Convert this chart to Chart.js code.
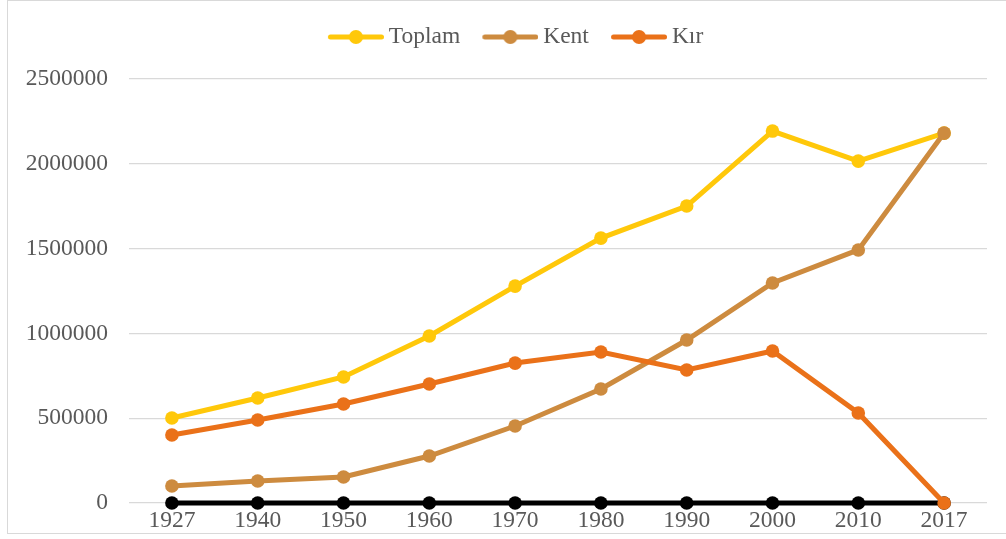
<!DOCTYPE html>
<html>
<head>
<meta charset="utf-8">
<script src="https://cdn.jsdelivr.net/npm/chart.js@4"></script>
<style>
  html, body { margin: 0; padding: 0; background: #fff; }
  #wrap { position: relative; width: 1006px; height: 539px; overflow: hidden; }
  #frame { position: absolute; left: 7px; top: 0; width: 1010px; height: 534px; border: 1px solid #d9d9d9; box-sizing: border-box; }
  canvas { position: absolute; left: 0; top: 0; }
</style>
</head>
<body>
<div id="wrap">
  <div id="frame"></div>
  <canvas id="chart" width="1006" height="539"></canvas>
</div>
<script>
const years = ["1927", "1940", "1950", "1960", "1970", "1980", "1990", "2000", "2010", "2017"];
const toplam = [501000, 619000, 743000, 985000, 1279000, 1562000, 1751000, 2193000, 2016000, 2181000];
const kent = [100000, 130000, 153000, 277000, 454000, 672000, 961000, 1297000, 1492000, 2181000];
const kir = [401000, 489000, 584000, 702000, 825000, 890000, 784000, 896000, 531000, 0];
const zero = [0, 0, 0, 0, 0, 0, 0, 0, 0, 0];

const YELLOW = "#FFC80A";
const BROWN = "#CD8B3F";
const ORANGE = "#EA7119";
const FONT = "'Times New Roman', 'Liberation Serif', serif";

// legend marker: line with a dot, visible part sits at the right of the image
function legendMarker(color) {
  const c = document.createElement("canvas");
  c.width = 75;
  c.height = 16;
  const ctx = c.getContext("2d");
  ctx.strokeStyle = color;
  ctx.lineWidth = 5;
  ctx.lineCap = "round";
  ctx.beginPath();
  ctx.moveTo(21.5, 8);
  ctx.lineTo(72.5, 8);
  ctx.stroke();
  ctx.fillStyle = color;
  ctx.beginPath();
  ctx.arc(47, 8, 7, 0, Math.PI * 2);
  ctx.fill();
  return c;
}

function series(label, data, color, order) {
  return {
    label: label,
    data: data,
    borderColor: color,
    backgroundColor: color,
    borderWidth: 5,
    pointRadius: 6.8,
    pointHoverRadius: 6.8,
    pointBorderWidth: 0,
    pointBackgroundColor: color,
    tension: 0,
    clip: false,
    order: order,
  };
}

// fixed legend height, and nudge it right a little like the original
const legendTweak = {
  id: "legendTweak",
  beforeInit(chart) {
    const legend = chart.legend;
    const fit = legend.fit;
    legend.fit = function () {
      fit.call(this);
      this.height = 63.75;
    };
    const draw = legend.draw;
    legend.draw = function () {
      this.ctx.save();
      this.ctx.translate(16, 0);
      draw.call(this);
      this.ctx.restore();
    };
  },
};

new Chart(document.getElementById("chart").getContext("2d"), {
  type: "line",
  data: {
    labels: years,
    datasets: [
      series("Toplam", toplam, YELLOW, 3),
      series("Kent", kent, BROWN, 2),
      series("Kır", kir, ORANGE, 1),
      series("", zero, "#000000", 4),
    ],
  },
  options: {
    responsive: false,
    animation: false,
    layout: { padding: { left: 0, right: 19, top: 15.25, bottom: 0 } },
    plugins: {
      tooltip: { enabled: false },
      legend: {
        position: "top",
        labels: {
          usePointStyle: true,
          pointStyleWidth: 61.25,
          padding: 10,
          color: "#595959",
          font: { family: FONT, size: 23.5 },
          sort: (a, b) => a.datasetIndex - b.datasetIndex,
          filter: (item) => item.datasetIndex < 3,
          generateLabels: (chart) => {
            const colors = [YELLOW, BROWN, ORANGE];
            return chart.data.datasets.map((ds, i) => ({
              text: ds.label,
              fillStyle: colors[i] || "#000",
              strokeStyle: colors[i] || "#000",
              lineWidth: 0,
              pointStyle: i < 3 ? legendMarker(colors[i]) : "circle",
              fontColor: "#595959",
              hidden: false,
              datasetIndex: i,
            }));
          },
        },
      },
    },
    scales: {
      x: {
        offset: true,
        grid: { display: false, drawTicks: false },
        border: { display: false },
        ticks: { color: "#595959", font: { family: FONT, size: 23.5 }, padding: 4, maxRotation: 0 },
        afterFit: (scale) => { scale.height = 36; },
      },
      y: {
        min: 0,
        max: 2500000,
        grid: { color: "#d9d9d9", lineWidth: 1.3, drawTicks: false },
        border: { display: false },
        ticks: {
          stepSize: 500000,
          color: "#595959",
          font: { family: FONT, size: 23.5 },
          padding: 21,
          callback: (value) => String(value),
        },
        afterFit: (scale) => { scale.width = 129; },
      },
    },
  },
  plugins: [legendTweak],
});
</script>
</body>
</html>
